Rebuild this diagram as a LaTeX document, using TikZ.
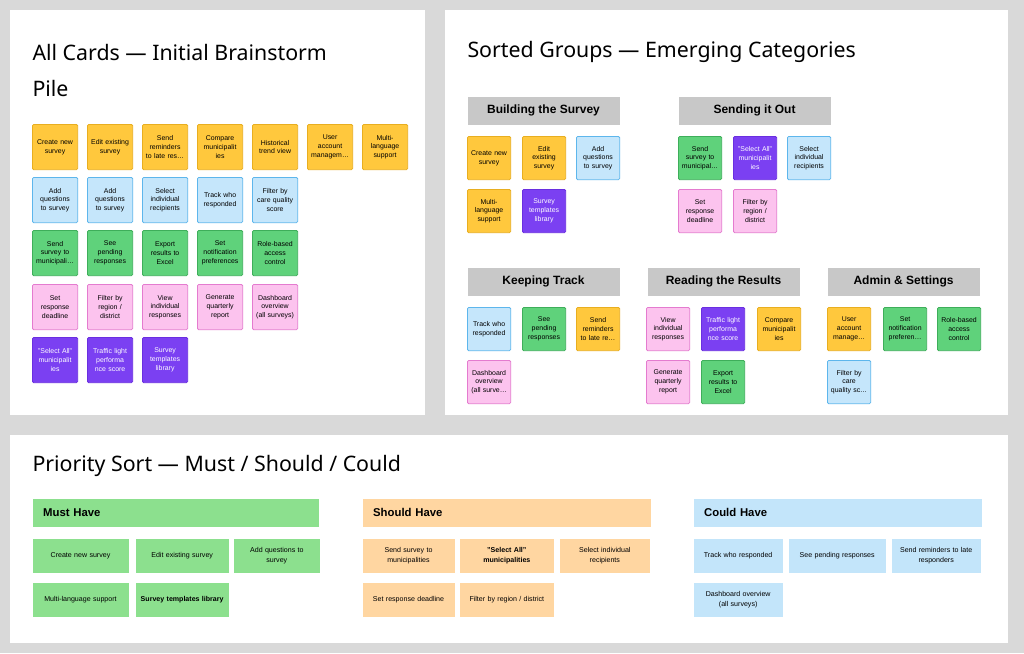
\documentclass[tikz,border=0pt]{standalone}
\usepackage{fontspec}
\setmainfont{Liberation Sans}
\newfontfamily\ttlfont{Noto Sans}
\definecolor{bggray}{HTML}{D9D9D9}
\definecolor{hdgray}{HTML}{C8C8C8}
\definecolor{yelfill}{HTML}{FFC83D}
\definecolor{yeldraw}{HTML}{E8AE20}
\definecolor{blufill}{HTML}{C5E6FB}
\definecolor{bludraw}{HTML}{5DB6EC}
\definecolor{grnfill}{HTML}{5FD27B}
\definecolor{grndraw}{HTML}{3EAE5A}
\definecolor{pnkfill}{HTML}{FCC3EE}
\definecolor{pnkdraw}{HTML}{E47BCF}
\definecolor{purfill}{HTML}{7B40F2}
\definecolor{purdraw}{HTML}{6A2FE0}
\definecolor{mustfill}{HTML}{8CE08E}
\definecolor{shldfill}{HTML}{FFD6A1}
\definecolor{couldfill}{HTML}{C3E5FA}
\tikzset{every picture/.style={line width=0.75pt}}
\tikzset{
  card/.style={anchor=north west, draw, rounded corners=1pt, line width=0.6pt, inner sep=1pt, align=center, font=\fontsize{5.2}{6.6}\selectfont},
  big/.style={minimum width=34pt, minimum height=34pt, text width=31pt},
  small/.style={minimum width=32.5pt, minimum height=32.5pt, text width=30pt},
  yel/.style={card, fill=yelfill, draw=yeldraw},
  blu/.style={card, fill=blufill, draw=bludraw},
  grn/.style={card, fill=grnfill, draw=grndraw},
  pnk/.style={card, fill=pnkfill, draw=pnkdraw},
  pur/.style={card, fill=purfill, draw=purdraw, text=white},
  grouphd/.style={anchor=north west, fill=hdgray, minimum width=114pt, minimum height=21pt, font=\bfseries\fontsize{9}{10}\selectfont},
  prihd/.style={anchor=north west, minimum height=21pt, inner xsep=8pt, text depth=0pt, font=\bfseries\fontsize{8.5}{10}\selectfont},
  pri/.style={anchor=north west, minimum height=26pt, inner sep=1pt, align=center, font=\fontsize{5.3}{7.5}\selectfont},
  title/.style={anchor=west, inner sep=0pt, font=\ttlfont\fontsize{16}{20}\selectfont}
}
\begin{document}
\begin{tikzpicture}[x=0.75pt,y=0.75pt,yscale=-1,xscale=1]
\useasboundingbox (0,0) rectangle (1024,653);
\fill[bggray] (0,0) rectangle (1024,653);
% panels
\fill[white] (10,10) rectangle (425,415);
\fill[white] (445,10) rectangle (1008,415);
\fill[white] (10,435) rectangle (1008,643);

% All cards
\node[title] (t1) at (32,52) {All Cards — Initial Brainstorm};
\node[title] (t1b) at (32,88) {Pile};
\foreach \t [count=\i] in {{Create new\\survey},{Edit existing\\survey},{Send\\reminders\\to late res\dots},{Compare\\municipalit\\ies},{Historical\\trend view},{User\\account\\managem\dots},{Multi-\\language\\support}}
  \node[yel,big] (ay\i) at ({32+55*(\i-1)},124) {\t};
\foreach \t [count=\i] in {{Add\\questions\\to survey},{Add\\questions\\to survey},{Select\\individual\\recipients},{Track who\\responded},{Filter by\\care quality\\score}}
  \node[blu,big] (ab\i) at ({32+55*(\i-1)},177) {\t};
\foreach \t [count=\i] in {{Send\\survey to\\municipali\dots},{See\\pending\\responses},{Export\\results to\\Excel},{Set\\notification\\preferences},{Role-based\\access\\control}}
  \node[grn,big] (ag\i) at ({32+55*(\i-1)},230) {\t};
\foreach \t [count=\i] in {{Set\\response\\deadline},{Filter by\\region /\\district},{View\\individual\\responses},{Generate\\quarterly\\report},{Dashboard\\overview\\(all surveys)}}
  \node[pnk,big] (ap\i) at ({32+55*(\i-1)},284) {\t};
\foreach \t [count=\i] in {{"Select All"\\municipalit\\ies},{Traffic light\\performa\\nce score},{Survey\\templates\\library}}
  \node[pur,big] (au\i) at ({32+55*(\i-1)},337) {\t};

% Sorted groups
\node[title] (t2) at (467,52) {Sorted Groups — Emerging Categories};
\node[grouphd] (gbuild) at (467,96) {Building the Survey};
\node[grouphd] (gsend) at (678,96) {Sending it Out};
\node[grouphd] (gtrack) at (467,267) {Keeping Track};
\node[grouphd] (gread) at (647,267) {Reading the Results};
\node[grouphd] (gadmin) at (827,267) {Admin \& Settings};

\node[yel,small] (b1) at (467,136) {Create new\\survey};
\node[yel,small] (b2) at (522,136) {Edit\\existing\\survey};
\node[blu,small] (b3) at (576,136) {Add\\questions\\to survey};
\node[yel,small] (b4) at (467,189) {Multi-\\language\\support};
\node[pur,small] (b5) at (522,189) {Survey\\templates\\library};

\node[grn,small] (s1) at (678,136) {Send\\survey to\\municipal\dots};
\node[pur,small] (s2) at (733,136) {"Select All"\\municipalit\\ies};
\node[blu,small] (s3) at (787,136) {Select\\individual\\recipients};
\node[pnk,small] (s4) at (678,189) {Set\\response\\deadline};
\node[pnk,small] (s5) at (733,189) {Filter by\\region /\\district};

\node[blu,small] (k1) at (467,307) {Track who\\responded};
\node[grn,small] (k2) at (522,307) {See\\pending\\responses};
\node[yel,small] (k3) at (576,307) {Send\\reminders\\to late re\dots};
\node[pnk,small] (k4) at (467,360) {Dashboard\\overview\\(all surve\dots};

\node[pnk,small] (r1) at (646,307) {View\\individual\\responses};
\node[pur,small] (r2) at (701,307) {Traffic light\\performa\\nce score};
\node[yel,small] (r3) at (757,307) {Compare\\municipalit\\ies};
\node[pnk,small] (r4) at (646,360) {Generate\\quarterly\\report};
\node[grn,small] (r5) at (701,360) {Export\\results to\\Excel};

\node[yel,small] (d1) at (827,307) {User\\account\\manage\dots};
\node[grn,small] (d2) at (883,307) {Set\\notification\\preferen\dots};
\node[grn,small] (d3) at (937,307) {Role-based\\access\\control};
\node[blu,small] (d4) at (827,360) {Filter by\\care\\quality sc\dots};

% Priority sort
\node[title] (t3) at (32,466) {Priority Sort — Must / Should / Could};
\node[prihd, fill=mustfill, minimum width=215pt, text width=199pt] (must) at (32,498) {Must Have};
\node[prihd, fill=shldfill, minimum width=216pt, text width=200pt] (should) at (362,498) {Should Have};
\node[prihd, fill=couldfill, minimum width=216pt, text width=200pt] (could) at (693,498) {Could Have};

\node[pri, fill=mustfill, minimum width=72pt, text width=68pt] (m1) at (32,538) {Create new survey};
\node[pri, fill=mustfill, minimum width=70pt, text width=66pt] (m2) at (135,538) {Edit existing survey};
\node[pri, fill=mustfill, minimum width=65pt, text width=60pt] (m3) at (233,538) {Add questions to\\survey};
\node[pri, fill=mustfill, minimum width=72pt, text width=68pt] (m4) at (32,582) {Multi-language support};
\node[pri, fill=mustfill, minimum width=70pt, text width=66pt, font=\bfseries\fontsize{5.3}{7.5}\selectfont] (m5) at (135,582) {Survey templates library};

\node[pri, fill=shldfill, minimum width=69pt, text width=65pt] (h1) at (362,538) {Send survey to\\municipalities};
\node[pri, fill=shldfill, minimum width=71pt, text width=67pt, font=\bfseries\fontsize{5.3}{7.5}\selectfont] (h2) at (459,538) {"Select All"\\municipalities};
\node[pri, fill=shldfill, minimum width=68pt, text width=64pt] (h3) at (559,538) {Select individual\\recipients};
\node[pri, fill=shldfill, minimum width=69pt, text width=65pt] (h4) at (362,582) {Set response deadline};
\node[pri, fill=shldfill, minimum width=71pt, text width=67pt] (h5) at (459,582) {Filter by region / district};

\node[pri, fill=couldfill, minimum width=67pt, text width=63pt] (c1) at (693,538) {Track who responded};
\node[pri, fill=couldfill, minimum width=73pt, text width=69pt] (c2) at (788,538) {See pending responses};
\node[pri, fill=couldfill, minimum width=67pt, text width=63pt] (c3) at (891,538) {Send reminders to late\\responders};
\node[pri, fill=couldfill, minimum width=67pt, text width=63pt] (c4) at (693,582) {Dashboard overview\\(all surveys)};
\end{tikzpicture}
\end{document}
